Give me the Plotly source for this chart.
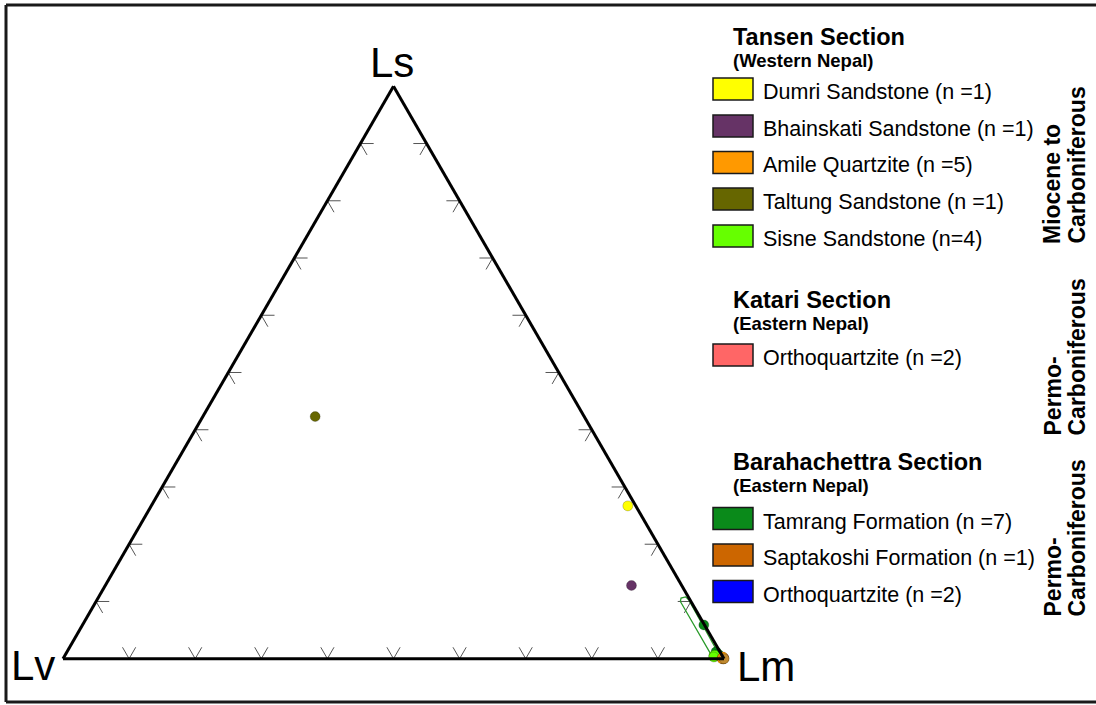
import plotly.graph_objects as go

W, H = 1096, 705

# --- sample compositions (Ls, Lv, Lm fractions) ---
dumri_ls = [0.267]
dumri_lv = [0.012]
dumri_lm = [0.721]

bhainskati_ls = [0.128]
bhainskati_lv = [0.076]
bhainskati_lm = [0.796]

amile_ls = [0.000, 0.002, 0.001, 0.000, 0.003]
amile_lv = [0.000, 0.001, 0.002, 0.003, 0.000]
amile_lm = [1.000, 0.997, 0.997, 0.997, 0.997]

taltung_ls = [0.423]
taltung_lv = [0.407]
taltung_lm = [0.170]

sisne_ls = [0.005, 0.004, 0.006, 0.003]
sisne_lv = [0.013, 0.012, 0.011, 0.014]
sisne_lm = [0.982, 0.984, 0.983, 0.983]

katari_ortho_ls = [0.000, 0.001]
katari_ortho_lv = [0.001, 0.000]
katari_ortho_lm = [0.999, 0.999]

tamrang_ls = [0.059, 0.012, 0.008, 0.005, 0.003, 0.002, 0.000]
tamrang_lv = [0.001, 0.006, 0.005, 0.004, 0.003, 0.002, 0.001]
tamrang_lm = [0.940, 0.982, 0.987, 0.991, 0.994, 0.996, 0.999]

saptakoshi_ls = [0.000]
saptakoshi_lv = [0.000]
saptakoshi_lm = [1.000]

bara_ortho_ls = [0.001, 0.000]
bara_ortho_lv = [0.000, 0.002]
bara_ortho_lm = [0.999, 0.998]

# Tamrang Formation field outline
tamrang_field_ls = [0.103, 0.108, 0.106, 0.100, 0.004, 0.000, 0.103]
tamrang_field_lv = [0.002, 0.004, 0.012, 0.016, 0.016, 0.004, 0.002]
tamrang_field_lm = [0.895, 0.888, 0.882, 0.884, 0.980, 0.996, 0.895]

# --- legend content ---
sections = ["Tansen Section", "Katari Section", "Barahachettra Section"]
regions = ["(Western Nepal)", "(Eastern Nepal)", "(Eastern Nepal)"]
tansen_labels = ["Dumri Sandstone (n =1)", "Bhainskati Sandstone (n =1)",
                 "Amile Quartzite (n =5)", "Taltung Sandstone (n =1)",
                 "Sisne Sandstone (n=4)"]
tansen_colors = ["#ffff00", "#663366", "#ff9900", "#666600", "#66ff00"]
katari_labels = ["Orthoquartzite (n =2)"]
katari_colors = ["#ff6666"]
bara_labels = ["Tamrang Formation (n =7)", "Saptakoshi Formation (n =1)",
               "Orthoquartzite (n =2)"]
bara_colors = ["#0a8a1a", "#cc6600", "#0000ff"]
ages = [["Miocene to", "Carboniferous"], ["Permo-", "Carboniferous"],
        ["Permo-", "Carboniferous"]]

tick_steps = [0.1, 0.2, 0.3, 0.4, 0.5, 0.6, 0.7, 0.8, 0.9]
vertex_labels = ["Ls", "Lv", "Lm"]

FONT = "Arial, Liberation Sans, sans-serif"


def X(px):
    return px / W


def Y(py):
    return 1 - py / H


fig = go.Figure()

# tick stubs along each edge: two short grid-direction strokes per step
L = 0.02
ta, tb, tc = [], [], []
for t in tick_steps:
    # bottom edge (Ls = 0)
    for seg in [((0, 1 - t, t), (L, 1 - t - L, t)), ((0, 1 - t, t), (L, 1 - t, t - L)),
                # left edge (Lm = 0)
                ((t, 1 - t, 0), (t, 1 - t - L, L)), ((t, 1 - t, 0), (t - L, 1 - t, L)),
                # right edge (Lv = 0)
                ((t, 0, 1 - t), (t, L, 1 - t - L)), ((t, 0, 1 - t), (t - L, L, 1 - t))]:
        for p in seg:
            ta.append(p[0]); tb.append(p[1]); tc.append(p[2])
        ta.append(None); tb.append(None); tc.append(None)

fig.add_trace(go.Scatterternary(a=ta, b=tb, c=tc, mode="lines",
                                line=dict(color="#555555", width=1),
                                hoverinfo="skip", showlegend=False))

fig.add_trace(go.Scatterternary(a=tamrang_field_ls, b=tamrang_field_lv, c=tamrang_field_lm,
                                mode="lines", line=dict(color="#2a9a2a", width=1.3),
                                hoverinfo="skip", showlegend=False))


def pts(ls, lv, lm, color, name):
    fig.add_trace(go.Scatterternary(
        a=ls, b=lv, c=lm, mode="markers", name=name, cliponaxis=False,
        marker=dict(size=10, color=color, line=dict(color="rgba(0,0,0,0.35)", width=0.6)),
        showlegend=False))


pts(bara_ortho_ls, bara_ortho_lv, bara_ortho_lm, bara_colors[2], bara_labels[2])
pts(katari_ortho_ls, katari_ortho_lv, katari_ortho_lm, katari_colors[0], katari_labels[0])
pts(tamrang_ls, tamrang_lv, tamrang_lm, bara_colors[0], bara_labels[0])
pts(sisne_ls, sisne_lv, sisne_lm, tansen_colors[4], tansen_labels[4])
pts(amile_ls, amile_lv, amile_lm, tansen_colors[2], tansen_labels[2])
pts(saptakoshi_ls, saptakoshi_lv, saptakoshi_lm, "#c08a30", bara_labels[1])
pts(taltung_ls, taltung_lv, taltung_lm, tansen_colors[3], tansen_labels[3])
pts(dumri_ls, dumri_lv, dumri_lm, tansen_colors[0], tansen_labels[0])
pts(bhainskati_ls, bhainskati_lv, bhainskati_lm, tansen_colors[1], tansen_labels[1])

axis_style = dict(showline=True, linecolor="black", linewidth=3, showgrid=False,
                  showticklabels=False, ticks="", title=dict(text=""))

annotations = []
shapes = []

# vertex labels
for txt, (cx, cy) in zip(vertex_labels, [(392, 62), (33, 665), (766, 666)]):
    annotations.append(dict(text=txt, x=X(cx), y=Y(cy), xref="paper", yref="paper",
                            showarrow=False, xanchor="center", yanchor="middle",
                            font=dict(family=FONT, size=42, color="black")))

# legend blocks: (top of heading block, swatch row centres)
blocks = [
    (21.5, [89, 126, 162.5, 199, 236], tansen_labels, tansen_colors),
    (284.5, [355], katari_labels, katari_colors),
    (446.5, [518.5, 555, 591.5], bara_labels, bara_colors),
]
for i, (top, rows, labels, colors) in enumerate(blocks):
    heading = ("<span style='font-size:23.5px'><b>%s</b></span><br>"
               "<span style='font-size:18.5px'><b>%s</b></span>" % (sections[i], regions[i]))
    annotations.append(dict(text=heading, x=X(731), y=Y(top),
                            xref="paper", yref="paper", showarrow=False,
                            xanchor="left", yanchor="top", align="left",
                            font=dict(family=FONT, size=17, color="black")))
    for ry, lab, col in zip(rows, labels, colors):
        shapes.append(dict(type="rect", xref="paper", yref="paper",
                           x0=X(713), x1=X(753), y0=Y(ry - 11), y1=Y(ry + 11),
                           fillcolor=col, line=dict(color="#1a1a1a", width=1.5)))
        annotations.append(dict(text=lab, x=X(761), y=Y(ry + 3), xref="paper",
                                yref="paper", showarrow=False, xanchor="left",
                                yanchor="middle",
                                font=dict(family=FONT, size=21.5, color="black")))

# rotated age labels
for (l1, l2), bottom in zip(ages, [246, 438, 619]):
    for txt, cx in [(l1, 1052), (l2, 1076)]:
        annotations.append(dict(text="<b>%s</b>" % txt, x=X(cx), y=Y(bottom),
                                xref="paper", yref="paper", showarrow=False,
                                textangle=-90, xanchor="center", yanchor="bottom",
                                font=dict(family=FONT, size=23, color="black")))

# outer frame (left, top, bottom edges)
frame = dict(color="#1a1a1a", width=3)
shapes.append(dict(type="line", xref="paper", yref="paper", x0=X(6), x1=X(6),
                   y0=Y(702), y1=Y(5), line=frame))
shapes.append(dict(type="line", xref="paper", yref="paper", x0=X(6), x1=X(1096),
                   y0=Y(5), y1=Y(5), line=frame))
shapes.append(dict(type="line", xref="paper", yref="paper", x0=X(6), x1=X(1096),
                   y0=Y(702), y1=Y(702), line=frame))

fig.update_layout(
    width=W, height=H, margin=dict(l=0, r=0, t=0, b=0),
    paper_bgcolor="white", plot_bgcolor="white", showlegend=False,
    ternary=dict(domain=dict(x=[X(63), X(724)], y=[Y(660), Y(85)]),
                 bgcolor="white", sum=1,
                 aaxis=axis_style, baxis=axis_style, caxis=axis_style),
    annotations=annotations, shapes=shapes,
)

fig.write_html("out.html")
